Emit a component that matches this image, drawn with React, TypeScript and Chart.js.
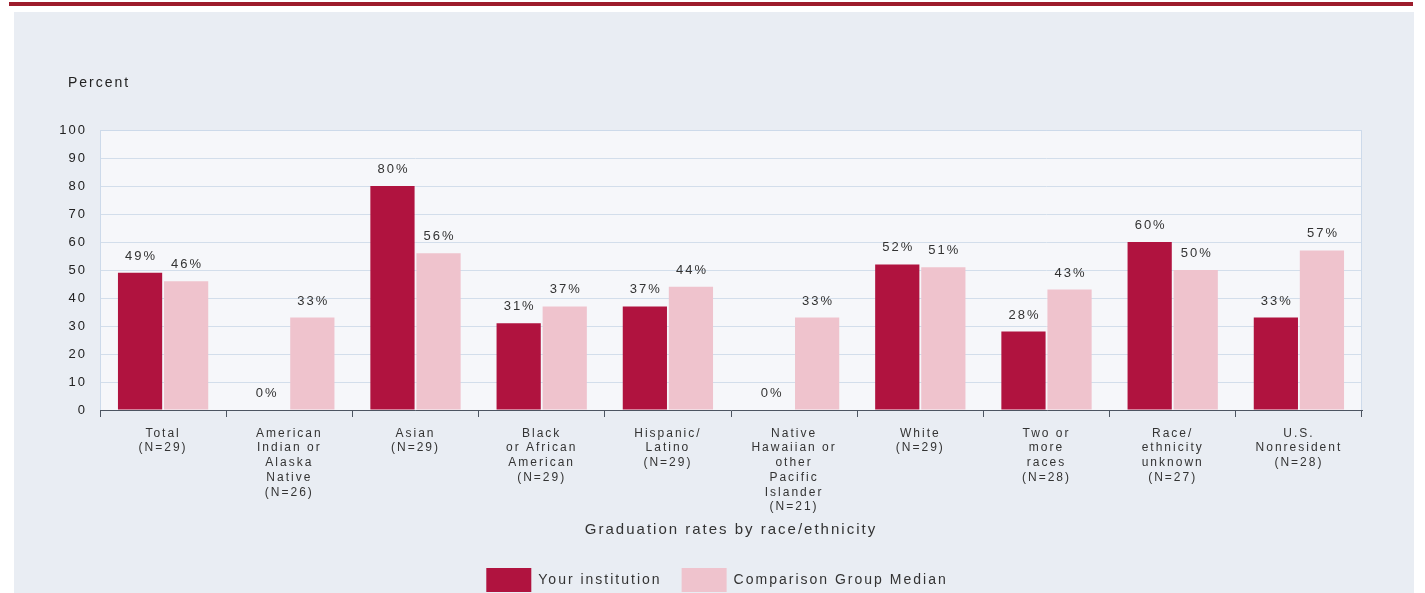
import React, { useEffect, useRef } from "react";
import { Chart, registerables } from "chart.js";

Chart.register(...registerables);

const categories: string[][] = [
  ["Total", "(N=29)"],
  ["American", "Indian or", "Alaska", "Native", "(N=26)"],
  ["Asian", "(N=29)"],
  ["Black", "or African", "American", "(N=29)"],
  ["Hispanic/", "Latino", "(N=29)"],
  ["Native", "Hawaiian or", "other", "Pacific", "Islander", "(N=21)"],
  ["White", "(N=29)"],
  ["Two or", "more", "races", "(N=28)"],
  ["Race/", "ethnicity", "unknown", "(N=27)"],
  ["U.S.", "Nonresident", "(N=28)"],
];

const yourInstitution: number[] = [49, 0, 80, 31, 37, 0, 52, 28, 60, 33];
const comparisonMedian: number[] = [46, 33, 56, 37, 44, 33, 51, 43, 50, 57];

const seriesNames = ["Your institution", "Comparison Group Median"];
const yAxisLabel = "Percent";
const xAxisTitle = "Graduation rates by race/ethnicity";

const FONT = "'Liberation Sans', Arial, sans-serif";
const SPACING = "2px";
const W = 1425;
const H = 620;

const setSpacing = (chart: any) => {
  (chart.ctx as any).letterSpacing = SPACING;
};

const backgroundPlugin = {
  id: "bgPlugin",
  beforeUpdate(chart: any) {
    setSpacing(chart);
  },
  beforeLayout(chart: any) {
    setSpacing(chart);
  },
  afterLayout(chart: any) {
    const lg = chart.legend;
    if (lg) {
      lg.left += 36;
      lg.right += 36;
    }
  },
  beforeDraw(chart: any) {
    setSpacing(chart);
    const { ctx, chartArea } = chart;
    ctx.save();
    ctx.fillStyle = "#ffffff";
    ctx.fillRect(0, 0, W, H);
    // outer tinted panel
    ctx.fillStyle = "#e9edf3";
    ctx.fillRect(14, 12, 1400, H);
    // top red rule
    ctx.fillStyle = "#9d1c2c";
    ctx.fillRect(9, 2, 1404, 4);
    // plot area
    ctx.fillStyle = "#f6f7fa";
    ctx.fillRect(chartArea.left, chartArea.top, chartArea.right - chartArea.left, chartArea.bottom - chartArea.top);
    // Percent label
    ctx.fillStyle = "#222";
    ctx.font = `14px ${FONT}`;
    ctx.textAlign = "left";
    ctx.textBaseline = "middle";
    ctx.fillText(yAxisLabel, 68, 83);
    ctx.restore();
  },
  beforeDatasetsDraw(chart: any) {
    const { ctx, chartArea } = chart;
    ctx.save();
    ctx.strokeStyle = "#cddaea";
    ctx.lineWidth = 1;
    ctx.beginPath();
    ctx.moveTo(chartArea.left + 0.5, chartArea.bottom);
    ctx.lineTo(chartArea.left + 0.5, chartArea.top + 0.5);
    ctx.lineTo(chartArea.right - 0.5, chartArea.top + 0.5);
    ctx.lineTo(chartArea.right - 0.5, chartArea.bottom);
    ctx.stroke();
    ctx.restore();
  },
  afterDatasetsDraw(chart: any) {
    const { ctx } = chart;
    ctx.save();
    ctx.fillStyle = "#333";
    ctx.font = `13px ${FONT}`;
    ctx.textAlign = "center";
    ctx.textBaseline = "alphabetic";
    chart.data.datasets.forEach((ds: any, di: number) => {
      const meta = chart.getDatasetMeta(di);
      meta.data.forEach((el: any, i: number) => {
        ctx.fillText(`${ds.data[i]}%`, el.x + 1, el.y - 13);
      });
    });
    ctx.restore();
  },
};

export default function App() {
  const canvasRef = useRef<HTMLCanvasElement | null>(null);

  useEffect(() => {
    if (!canvasRef.current) return;
    const chart = new Chart(canvasRef.current, {
      type: "bar",
      data: {
        labels: categories,
        datasets: [
          {
            label: seriesNames[0],
            data: yourInstitution,
            backgroundColor: "#b0133f",
            borderWidth: 0,
          },
          {
            label: seriesNames[1],
            data: comparisonMedian,
            backgroundColor: "#efc3cd",
            borderWidth: 0,
          },
        ],
      },
      options: {
        responsive: false,
        animation: false,
        layout: { padding: { top: 130, right: 63, bottom: 18, left: 0 } },
        datasets: {
          bar: { categoryPercentage: 0.73, barPercentage: 0.96 },
        } as any,
        plugins: {
          tooltip: { enabled: false },
          legend: {
            position: "bottom",
            labels: {
              boxWidth: 45,
              boxHeight: 24,
              padding: 20,
              color: "#333",
              font: { family: FONT, size: 14 },
            },
          },
        },
        scales: {
          x: {
            afterFit: (scale: any) => {
              scale.height = 138;
            },
            grid: {
              drawOnChartArea: false,
              drawTicks: true,
              tickLength: 7,
              color: "#4d5561",
              offset: true,
            },
            border: { color: "#4d5561", width: 1 },
            ticks: {
              color: "#333",
              padding: 9,
              maxRotation: 0,
              autoSkip: false,
              font: { family: FONT, size: 12, lineHeight: 1.23 },
            },
            title: {
              display: true,
              text: xAxisTitle,
              color: "#333",
              font: { family: FONT, size: 15, lineHeight: 1.2 },
              padding: { top: 4, bottom: 9 },
            },
          },
          y: {
            min: 0,
            max: 100,
            afterFit: (scale: any) => {
              scale.width = 100;
            },
            grid: {
              drawTicks: false,
              color: "#d3deeb",
            },
            border: { display: false },
            ticks: {
              stepSize: 10,
              padding: 13,
              color: "#222",
              font: { family: FONT, size: 13 },
            },
          },
        },
      },
      plugins: [backgroundPlugin],
    });
    return () => chart.destroy();
  }, []);

  return (
    <div
      style={{
        position: "fixed",
        left: 0,
        top: 0,
        width: 1425,
        height: 593,
        overflow: "hidden",
        background: "#fff",
      }}
    >
      <canvas ref={canvasRef} width={W} height={H} style={{ display: "block" }} />
    </div>
  );
}
